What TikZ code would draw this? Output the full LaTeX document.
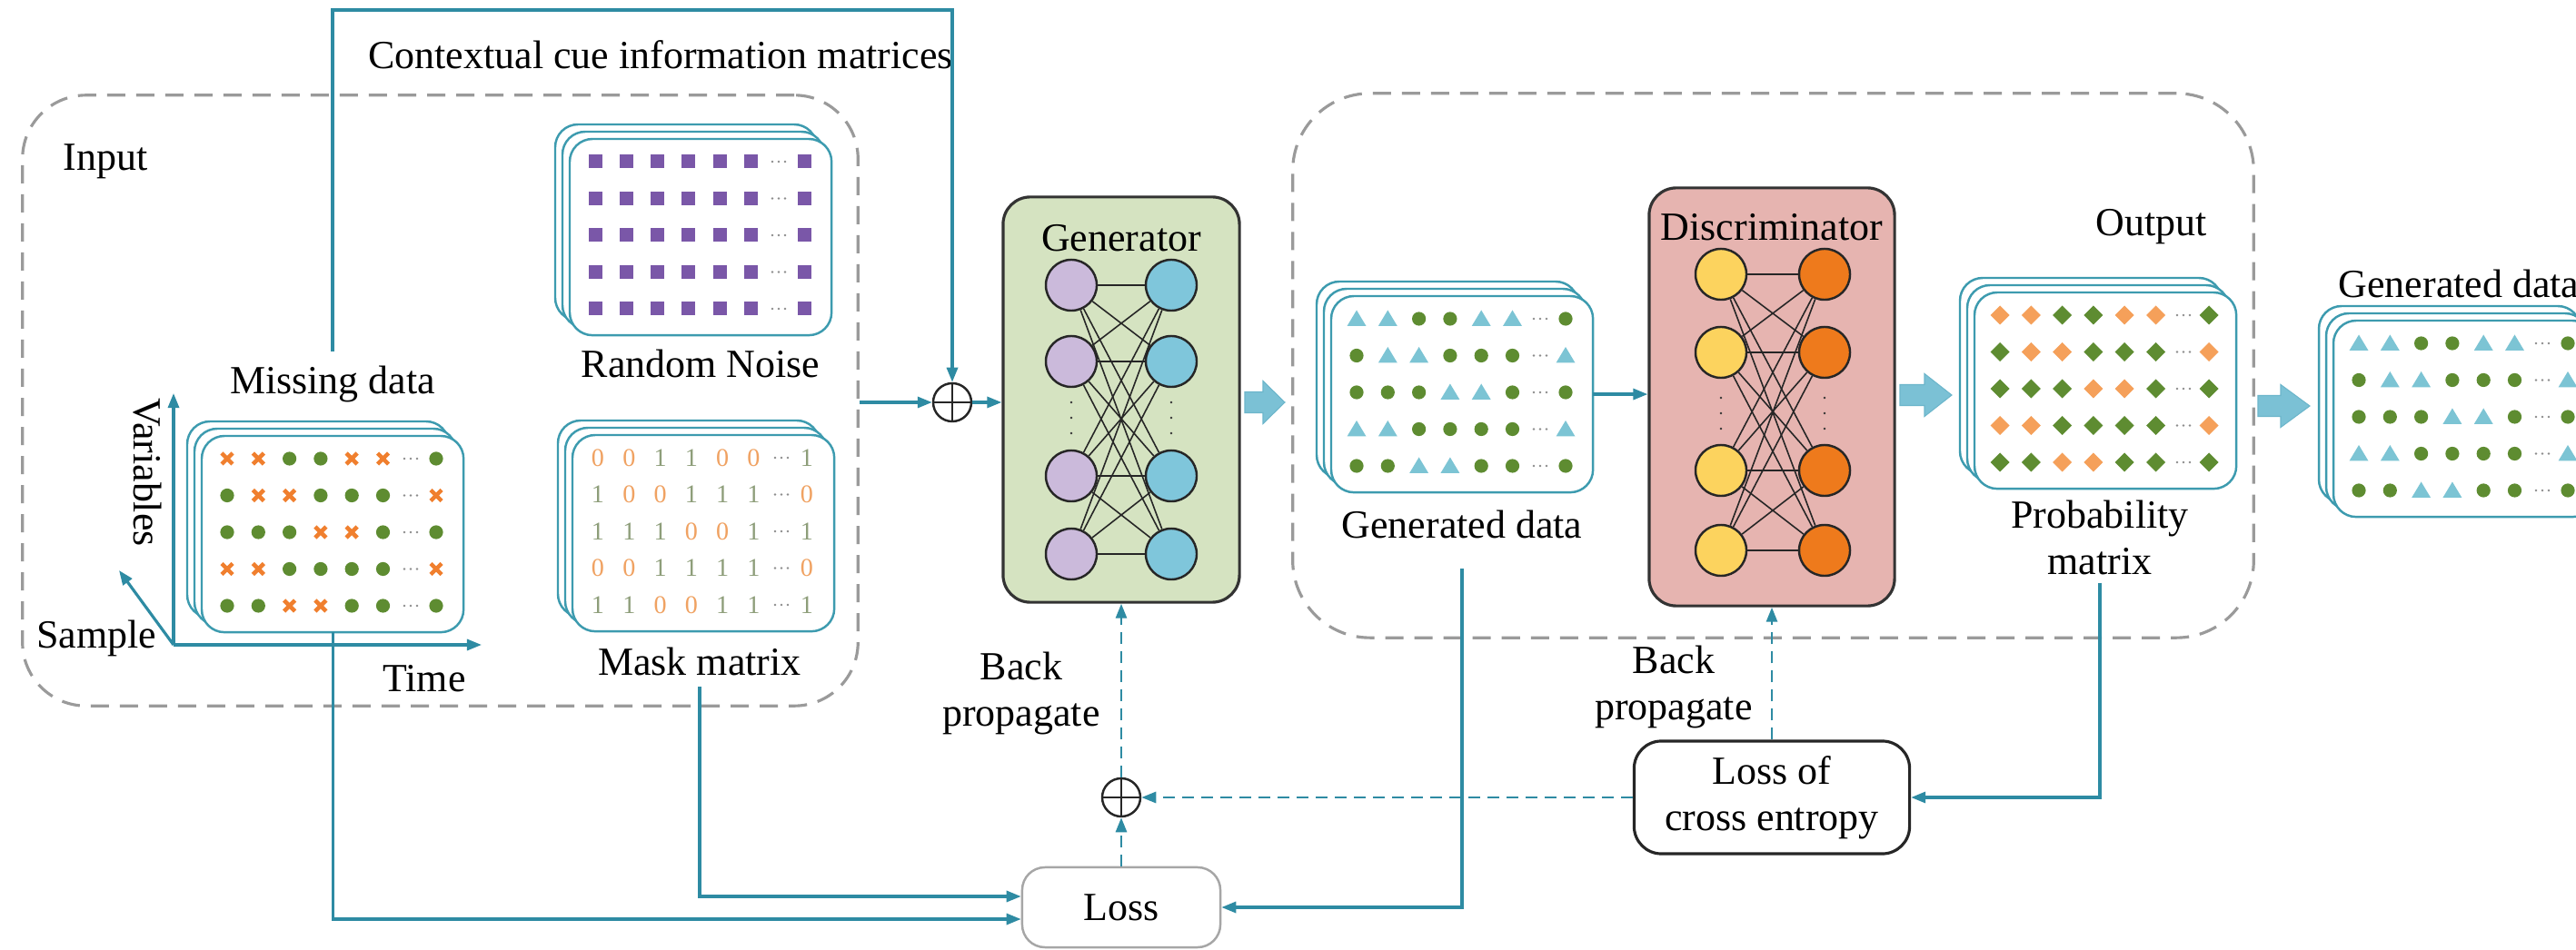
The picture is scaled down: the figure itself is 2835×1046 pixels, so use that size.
\documentclass[tikz,border=0pt]{standalone}
\usepackage{fontspec}
\setmainfont{Liberation Serif}
\usetikzlibrary{arrows.meta,calc}

\definecolor{teal1}{HTML}{2E8BA3}
\definecolor{cardc}{HTML}{3D9BAF}
\definecolor{gdash}{HTML}{9A9A9A}
\definecolor{genfill}{HTML}{D5E3C1}
\definecolor{disfill}{HTML}{E6B4B0}
\definecolor{lav}{HTML}{CBBADB}
\definecolor{lblue}{HTML}{7FC6DB}
\definecolor{yel}{HTML}{FCD35E}
\definecolor{org}{HTML}{EE7A1C}
\definecolor{dgreen}{HTML}{5E8C31}
\definecolor{xorange}{HTML}{F07F2E}
\definecolor{purp}{HTML}{7A57A8}
\definecolor{tri}{HTML}{7CC4D4}
\definecolor{dorange}{HTML}{F5A05A}
\definecolor{zeroc}{HTML}{F0A262}
\definecolor{onec}{HTML}{8E9E7A}
\definecolor{thickc}{HTML}{7BC1D5}

\newcommand\msq[2]{\fill[purp,shift={(#1,#2)}] (-7.5,-7.5) rectangle (7.5,7.5);}
\newcommand\mdot[2]{\fill[dgreen] (#1,#2) circle (0.076cm);}
\newcommand\mcross[2]{\draw[xorange,line width=1.3pt,shift={(#1,#2)}] (-6,-6)--(6,6) (-6,6)--(6,-6);}
\newcommand\mtri[2]{\fill[tri,shift={(#1,#2)}] (-10.5,8)--(10.5,8)--(0,-9.5)--cycle;}
\newcommand\mdiaO[2]{\fill[dorange,shift={(#1,#2)}] (0,-10.5)--(10.5,0)--(0,10.5)--(-10.5,0)--cycle;}
\newcommand\mdiaG[2]{\fill[dgreen,shift={(#1,#2)}] (0,-10.5)--(10.5,0)--(0,10.5)--(-10.5,0)--cycle;}
\newcommand\mzero[2]{\node[digit,text=zeroc] at (#1,#2) {0};}
\newcommand\mone[2]{\node[digit,text=onec] at (#1,#2) {1};}
\newcommand\mellip[2]{\fill[black!45,shift={(#1,#2)}] (-7,0) circle (0.013cm) (0,0) circle (0.013cm) (7,0) circle (0.013cm);}

\newcommand\fillmat[4]{%
 \foreach \rw [count=\j from 0] in {{1,1,0,0,1,1,0},{0,1,1,0,0,0,1},{0,0,0,1,1,0,0},{1,1,0,0,0,0,1},{0,0,1,1,0,0,0}}{%
   \pgfmathsetmacro\cy{#2+25+40.5*\j}%
   \foreach \v [count=\i from 0] in \rw {%
     \ifnum\i<6 \pgfmathsetmacro\cx{#1+28+34.3*\i}\else\pgfmathsetmacro\cx{#1+258}\fi
     \ifnum\v=1 #3{\cx}{\cy}\else #4{\cx}{\cy}\fi
   }%
   \pgfmathsetmacro\dx{#1+230}%
   \mellip{\dx}{\cy}%
 }}

\newcommand\card[3]{%
 \draw[cardst] (#2-16,#3-16) rectangle ++(288,216);
 \draw[cardst] (#2-8,#3-8) rectangle ++(288,216);
 \node[cardst, minimum width=2.88cm, minimum height=2.16cm, anchor=north west] (#1) at (#2,#3) {};
}

\newcommand\tarrow[4]{%
 \filldraw[fill=thickc, draw=thickc!80!teal1, line width=0.3pt] (#1,#2-11.5) -- (#1+#3,#2-11.5) -- (#1+#3,#2-23.5) -- (#1+#3+#4,#2) -- (#1+#3,#2+23.5) -- (#1+#3,#2+11.5) -- (#1,#2+11.5) -- cycle;}

\begin{document}
\begin{tikzpicture}[x=0.01cm,y=-0.01cm,
  lbl/.style={font=\fontsize{12.5}{14.5}\selectfont, inner sep=0, align=center},
  digit/.style={font=\fontsize{8}{9}\selectfont, inner sep=0},
  cardst/.style={draw=cardc, fill=white, line width=0.7pt, rounded corners=0.25cm, inner sep=0, outer sep=0},
  dbox/.style={draw=gdash, line width=0.9pt, dash pattern=on 0.2cm off 0.12cm, rounded corners=0.7cm, inner sep=0},
  conn/.style={draw=teal1, line width=0.9pt},
  arr/.style={-{Triangle[length=0.16cm,width=0.12cm]}},
  dconn/.style={draw=teal1, line width=0.8pt, dash pattern=on 0.13cm off 0.08cm},
  neuron/.style={circle, draw=black!85, line width=0.7pt, minimum size=0.56cm, inner sep=0},
  netbox/.style={draw=black!80, line width=0.9pt, rounded corners=0.3cm, inner sep=0},
  plusn/.style={circle, draw=black!85, line width=0.7pt, minimum size=0.42cm, inner sep=0,
    path picture={\draw[black!85,line width=0.7pt] (path picture bounding box.north) -- (path picture bounding box.south) (path picture bounding box.west) -- (path picture bounding box.east);}},
  wire/.style={draw=black!85, line width=0.45pt}
]
\clip (0,0) rectangle (2835,1046);
\fill[white] (0,0) rectangle (2835,1046);

% dashed group boxes
\node[dbox, minimum width=9.19cm, minimum height=6.72cm] (inbox) at (484.5,441) {};
\node[dbox, minimum width=10.57cm, minimum height=5.99cm, rounded corners=0.85cm] (outbox) at (1951.5,402.5) {};

\node[lbl] (inlabel) at (116,178) {Input};
\node[lbl] (outlabel) at (2368,250) {Output};
\node[lbl] (ctxlabel) at (727,60) {Contextual cue information matrices};

% input matrices
\card{noise}{627}{153}
\fillmat{627}{153}{\msq}{\msq}
\node[lbl] (noiselabel) at (771,400) {Random Noise};

\card{missing}{222}{480}
\fillmat{222}{480}{\mcross}{\mdot}
\node[lbl] (misslabel) at (366,423) {Missing data};

\card{mask}{630}{479}
\fillmat{630}{479}{\mzero}{\mone}
\node[lbl] (masklabel) at (770,728) {Mask matrix};

% axes
\coordinate (orig) at (191,710);
\coordinate (vtip) at (191,433);
\coordinate (ttip) at (530,710);
\coordinate (stip) at (131,628);
\draw[conn,arr] (orig) -- (vtip);
\draw[conn,arr] (orig) -- (ttip);
\draw[conn,arr] (orig) -- (stip);
\node[lbl, rotate=-90] (varlabel) at (162,520) {Variables};
\node[lbl] (samplabel) at (106,703) {Sample};
\node[lbl] (timelabel) at (467,747) {Time};

% plus nodes
\node[plusn] (plus1) at (1048,443) {};
\node[plusn] (plus2) at (1234,878) {};

% generator
\node[netbox, fill=genfill, minimum width=2.60cm, minimum height=4.46cm] (gen) at (1234,440) {};
\node[lbl] (genlabel) at (1234,262) {Generator};
\foreach \y [count=\k] in {314,398,524,610}{
  \node[neuron, fill=lav] (gl\k) at (1179,\y) {};
  \node[neuron, fill=lblue] (gr\k) at (1289,\y) {};
}
\foreach \a in {1,...,4}{\foreach \b in {1,...,4}{\draw[wire] (gl\a) -- (gr\b);}}
\foreach \d in {443,460,477}{\fill[black!80] (1179,\d) circle (0.014cm); \fill[black!80] (1289,\d) circle (0.014cm);}

% discriminator
\node[netbox, fill=disfill, minimum width=2.70cm, minimum height=4.60cm] (disc) at (1950,437) {};
\node[lbl] (disclabel) at (1950,250) {Discriminator};
\foreach \y [count=\k] in {302,388,518,606}{
  \node[neuron, fill=yel] (dl\k) at (1894,\y) {};
  \node[neuron, fill=org] (dr\k) at (2008,\y) {};
}
\foreach \a in {1,...,4}{\foreach \b in {1,...,4}{\draw[wire] (dl\a) -- (dr\b);}}
\foreach \d in {438,455,472}{\fill[black!80] (1894,\d) circle (0.014cm); \fill[black!80] (2008,\d) circle (0.014cm);}

% output matrices
\card{gendata}{1465}{326}
\fillmat{1465}{326}{\mtri}{\mdot}
\node[lbl] (gdlabel) at (1609,577) {Generated data};

\card{prob}{2173}{322}
\fillmat{2173}{322}{\mdiaO}{\mdiaG}
\node[lbl] (problabel) at (2311,592) {Probability\\matrix};

\card{final}{2568}{353}
\fillmat{2568}{353}{\mtri}{\mdot}
\node[lbl] (finallabel) at (2706,312) {Generated data};

% thick arrows
\tarrow{1370}{443}{20}{24}
\tarrow{2091}{435}{27}{30}
\tarrow{2485}{447}{25}{32}

% loss boxes
\node[lbl, draw=black!35, line width=0.7pt, rounded corners=0.25cm, minimum width=2.18cm, minimum height=0.88cm] (loss) at (1234,999) {Loss};
\node[lbl, draw=black!85, line width=0.9pt, rounded corners=0.3cm, minimum width=3.03cm, minimum height=1.24cm] (ce) at (1950,878) {Loss of\\cross entropy};

\node[lbl] (bp1) at (1124,763) {Back\\propagate};
\node[lbl] (bp2) at (1842,756) {Back\\propagate};

% connectors
\coordinate (ctxtop) at (0,11);
\draw[conn,arr] ([yshift=0.15cm]misslabel.north) |- (ctxtop -| plus1.north) -- (plus1.north);
\draw[conn,arr] (plus1.west -| inbox.east) -- (plus1.west);
\draw[conn,arr] (plus1.east) -- (plus1.east -| gen.west);
\draw[conn,arr] (gendata.east) -- (gendata.east -| disc.west);
\draw[conn,arr] (missing.south) |- ([yshift=-0.13cm]loss.west);
\draw[conn,arr] ([yshift=-0.12cm]masklabel.south) |- ([yshift=0.12cm]loss.west);
\draw[conn,arr] ([yshift=-0.33cm]gdlabel.south) |- (loss.east);
\draw[conn,arr] ([yshift=-0.08cm]problabel.south) |- (ce.east);
\draw[dconn,arr] (loss.north) -- (plus2.south);
\draw[dconn,arr] (plus2.north) -- (gen.south);
\draw[dconn,arr] (ce.west) -- (plus2.east);
\draw[dconn,arr] (ce.north) -- (ce.north |- disc.south);
\end{tikzpicture}
\end{document}
